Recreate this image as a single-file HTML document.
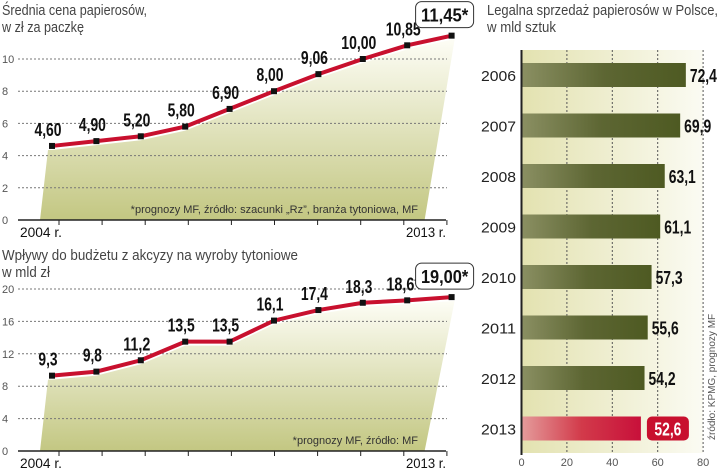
<!DOCTYPE html>
<html><head><meta charset="utf-8"><style>
body{margin:0;background:#fff;}
svg{display:block;font-family:"Liberation Sans",sans-serif;}
.t{font-size:15px;fill:#444;}
.tick{font-size:11px;fill:#555;}
.lbl{font-size:18px;font-weight:bold;fill:#111;}
</style></head><body>
<svg id="c" width="720" height="470" viewBox="0 0 720 470">
<defs>
<linearGradient id="ga" x1="0" y1="0" x2="0" y2="1"><stop offset="0" stop-color="#fdfdf5"/><stop offset="1" stop-color="#c3c782"/></linearGradient>
<linearGradient id="gb" x1="0" y1="0" x2="1" y2="0"><stop offset="0" stop-color="#e3e2b0"/><stop offset="1" stop-color="#fbfbf3"/></linearGradient>
<linearGradient id="bar" x1="0" y1="0" x2="1" y2="0"><stop offset="0" stop-color="#8a8f62"/><stop offset="0.5" stop-color="#5d6633"/><stop offset="1" stop-color="#4e5a22"/></linearGradient>
<linearGradient id="barr" x1="0" y1="0" x2="1" y2="0"><stop offset="0" stop-color="#e49a9a"/><stop offset="0.5" stop-color="#d23a4a"/><stop offset="1" stop-color="#c8103a"/></linearGradient>
</defs>
<text class="t" x="2" y="15" textLength="145" lengthAdjust="spacingAndGlyphs">Średnia cena papierosów,</text>
<text class="t" x="2" y="32" textLength="82" lengthAdjust="spacingAndGlyphs">w zł za paczkę</text>
<text class="t" x="2" y="260" textLength="296" lengthAdjust="spacingAndGlyphs">Wpływy do budżetu z akcyzy na wyroby tytoniowe</text>
<text class="t" x="2" y="277" textLength="48" lengthAdjust="spacingAndGlyphs">w mld zł</text>
<text class="t" x="487" y="15" textLength="231" lengthAdjust="spacingAndGlyphs">Legalna sprzedaż papierosów w Polsce,</text>
<text class="t" x="487" y="32" textLength="69" lengthAdjust="spacingAndGlyphs">w mld sztuk</text>
<g id="g1"></g><g id="g2"></g><g id="g3"></g>
</svg>
<script>
const years=["2004","2005","2006","2007","2008","2009","2010","2011","2012","2013"];
const priceVals=[4.60,4.90,5.20,5.80,6.90,8.00,9.06,10.00,10.85,11.45];
const priceLabels=["4,60","4,90","5,20","5,80","6,90","8,00","9,06","10,00","10,85","11,45*"];
const priceTicks=[0,2,4,6,8,10];
const exciseVals=[9.3,9.8,11.2,13.5,13.5,16.1,17.4,18.3,18.6,19.00];
const exciseLabels=["9,3","9,8","11,2","13,5","13,5","16,1","17,4","18,3","18,6*","19,00*"];
const exciseTicks=[0,4,8,12,16,20];
const salesYears=["2006","2007","2008","2009","2010","2011","2012","2013"];
const salesVals=[72.4,69.9,63.1,61.1,57.3,55.6,54.2,52.6];
const salesLabels=["72,4","69,9","63,1","61,1","57,3","55,6","54,2","52,6"];
const salesTicks=[0,20,40,60,80];
const NS="http://www.w3.org/2000/svg";
function el(p,t,a,txt){const e=document.createElementNS(NS,t);for(const k in a)e.setAttribute(k,a[k]);if(txt!==undefined)e.textContent=txt;p.appendChild(e);return e;}
function tl(s,k){let w=0;for(const c of s)w+=(c===','?3:c==='*'?6:7.2);return w*k;}
const xs=i=>52+i*44.4;
function lineChart(g,vals,labels,ticks,y0,pxPerUnit,note,prefix){
  const ys=v=>y0-v*pxPerUnit;
  const n=vals.length;
  let pts=`40,${y0} 48,${ys(vals[0])+4} `;
  vals.forEach((v,i)=>pts+=`${xs(i)},${ys(v)+4} `);
  pts+=`${xs(n-1)+3},${ys(vals[n-1])+4} ${xs(n-1)-27},${y0}`;
  const a=el(g,'polygon',{points:pts,fill:'url(#ga)'});
  
  
  ticks.forEach(t=>{
    if(t>0){const l=el(g,'line',{x1:18,x2:447,y1:ys(t),y2:ys(t),stroke:'#777','stroke-dasharray':'2,2','stroke-width':1});
    
    }
    const tx=el(g,'text',{class:'tick',x:2,y:ys(t)+4},String(t));
    
    
  });
  const ax=el(g,'line',{x1:18,x2:446,y1:y0,y2:y0,stroke:'#222','stroke-width':1.5});
  
  
  for(let i=0;i<10;i++){const tk=el(g,'line',{x1:59+i*43.1,x2:59+i*43.1,y1:y0,y2:y0+5,stroke:'#222'});
    
    }
  const xl1=el(g,'text',{x:20,y:y0+17,'font-size':14,fill:'#111',textLength:42,lengthAdjust:'spacingAndGlyphs'},years[0]+' r.');
  
  
  const xl2=el(g,'text',{x:406,y:y0+17,'font-size':14,fill:'#111',textLength:40,lengthAdjust:'spacingAndGlyphs'},years[n-1]+' r.');
  
  
  const nt=el(g,'text',{x:418,y:y0-7,'font-size':11,fill:'#333','text-anchor':'end'},note);
  
  
  const ln=el(g,'polyline',{points:vals.map((v,i)=>`${xs(i)},${ys(v)}`).join(' '),fill:'none',stroke:'#c8102e','stroke-width':4});
  
  
  vals.forEach((v,i)=>{
    const m=el(g,'rect',{x:xs(i)-3,y:ys(v)-3,width:6,height:6,fill:'#111'});
    
    
    if(i===n-1){
      const bx=el(g,'rect',{x:xs(i)-36,y:ys(v)-34,width:58,height:26,rx:6,fill:'#fff',stroke:'#333','stroke-width':1});
      
      
      const t=el(g,'text',{class:'lbl',x:xs(i)-7,y:ys(v)-14,'text-anchor':'middle','font-size':21,textLength:tl(labels[i],1.25),lengthAdjust:'spacingAndGlyphs'},labels[i]);
      
      
    }else{
      const t=el(g,'text',{class:'lbl',x:xs(i)-4,y:ys(v)-10,'text-anchor':'middle',textLength:tl(labels[i],1.1),lengthAdjust:'spacingAndGlyphs'},labels[i]);
      
      
    }
  });
}
lineChart(document.getElementById('g1'),priceVals,priceLabels,priceTicks,220,16.1,'*prognozy MF, źródło: szacunki „Rz”, branża tytoniowa, MF','price');
lineChart(document.getElementById('g2'),exciseVals,exciseLabels,exciseTicks,451,8.1,'*prognozy MF, źródło: MF','excise');
(function(){
  const g=document.getElementById('g3');
  const x0=521.5,sc=2.27;const xv=v=>x0+v*sc;
  const bg=el(g,'rect',{x:x0,y:50,width:xv(80)-x0,height:403,fill:'url(#gb)'});
  
  
  salesTicks.forEach(t=>{
    if(t>0){const l=el(g,'line',{x1:xv(t),x2:xv(t),y1:50,y2:453,stroke:'#555','stroke-dasharray':'2,2'});
    
    }
    const tx=el(g,'text',{class:'tick',x:xv(t),y:466,'text-anchor':'middle'},String(t));
    
    
  });
  const ax=el(g,'line',{x1:x0,x2:x0,y1:50,y2:455,stroke:'#222','stroke-width':2});
  
  
  salesVals.forEach((v,i)=>{
    const y=63+i*50.5;const last=i===salesVals.length-1;
    const b=el(g,'rect',{x:x0+1,y:y,width:xv(v)-x0-1,height:24,fill:last?'url(#barr)':'url(#bar)'});
    
    
    const yl=el(g,'text',{x:516,y:y+18,'text-anchor':'end','font-size':15,fill:'#222',textLength:35,lengthAdjust:'spacingAndGlyphs'},salesYears[i]);
    
    
    if(last){
      const bx=el(g,'rect',{x:xv(v)+6,y:y,width:42,height:24,rx:5,fill:'#c8102e'});
      
      
    }
    const t=el(g,'text',{class:'lbl',x:xv(v)+(last?27:4),y:y+19,'text-anchor':last?'middle':'start',style:last?'fill:#fff':'',textLength:tl(salesLabels[i],1.1),lengthAdjust:'spacingAndGlyphs'},salesLabels[i]);
    
    
  });
  const s=el(g,'text',{x:0,y:0,'font-size':10,fill:'#555',transform:'translate(715,440) rotate(-90)'},'źródło: KPMG, prognozy MF');
  
  
})();
</script>
</body></html>
